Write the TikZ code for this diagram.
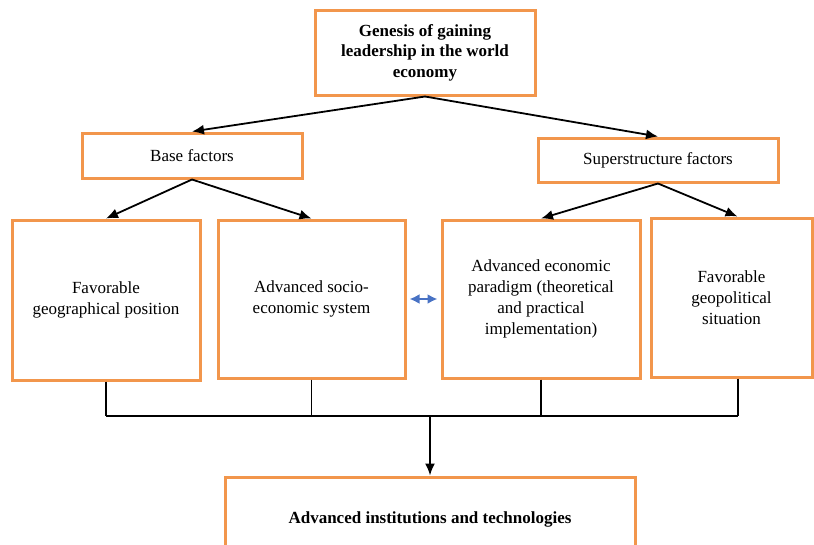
\documentclass[tikz,border=0pt]{standalone}
\usepackage{fontspec}
\setmainfont{Liberation Serif}
\usetikzlibrary{arrows.meta}
\definecolor{boxorange}{RGB}{242,150,76}
\definecolor{arrowblue}{RGB}{72,114,196}
\begin{document}
\begin{tikzpicture}[x=1pt,y=-1pt,
    every node/.style={rectangle,draw=boxorange,line width=3pt,fill=white,align=center,
      font=\fontsize{17}{21}\selectfont,inner sep=2pt},
    arr/.style={-{Latex[length=12pt,width=10pt]},line width=1.8pt}]
  \useasboundingbox (0,0) rectangle (814,544);
  \node (top) at (425,52.5) [minimum width=220pt,minimum height=85pt,font=\fontsize{17}{20.5}\selectfont\bfseries] {Genesis of gaining\\leadership in the world\\economy};
  \node (base) at (192,155.5) [minimum width=220pt,minimum height=45pt] {Base factors};
  \node (super) at (658,160) [minimum width=240pt,minimum height=44pt] {Superstructure factors};
  \node (b1) at (106,300) [minimum width=188pt,minimum height=160pt] {Favorable\\geographical position};
  \node (b2) at (311.5,299) [minimum width=187pt,minimum height=158pt] {Advanced socio-\\economic system};
  \node (b3) at (541,299) [minimum width=198pt,minimum height=158pt] {Advanced economic\\paradigm (theoretical\\and practical\\implementation)};
  \node (b4) at (731.5,297.5) [minimum width=161pt,minimum height=159pt] {Favorable\\geopolitical\\situation};
  \node (res) at (430,520) [minimum width=410pt,minimum height=86pt,font=\fontsize{17}{21}\selectfont\bfseries] {\raisebox{4pt}{Advanced institutions and technologies}};

  \draw [arr] (top.south) -- (base.north);
  \draw [arr] (top.south) -- (super.north);
  \draw [arr] (base.south) -- (b1.north);
  \draw [arr] (base.south) -- (b2.north);
  \draw [arr] (super.south) -- (b3.north);
  \draw [arr] (super.south) -- ([xshift=6pt]b4.north);

  \draw [arrowblue,line width=2pt,{Latex[length=10pt,width=10pt]}-{Latex[length=10pt,width=10pt]},shorten <=3pt,shorten >=3pt] (b2) -- (b3);

  \coordinate (busL) at (108,416);
  \coordinate (busR) at (738,416);
  \coordinate (busM) at (430,416);
  \draw [line width=1.2pt] (b1.south) -- (b1.south |- busL);
  \draw [line width=1.2pt] (b2.south) -- (b2.south |- busL);
  \draw [line width=1.2pt] (b3.south) -- (b3.south |- busL);
  \draw [line width=1.2pt] ([xshift=6.5pt]b4.south) -- (busR);
  \draw [line width=1.2pt] (b1.south |- busL) -- (busR);
  \draw [arr] (busM) -- (res.north);
\end{tikzpicture}
\end{document}
